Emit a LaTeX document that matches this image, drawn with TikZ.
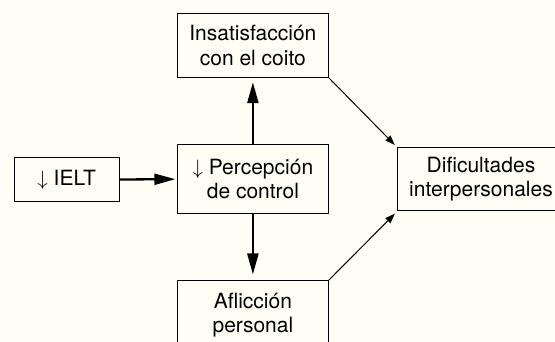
\documentclass[tikz,border=0pt]{standalone}
\usepackage{fontspec}
\setmainfont{TeX Gyre Heros}
\usetikzlibrary{arrows.meta}
\definecolor{bgcream}{RGB}{255,254,244}
\begin{document}
\begin{tikzpicture}[x=1pt,y=-1pt,
  box/.style={draw=black, line width=1pt, rectangle, inner sep=0pt, align=center,
    font=\fontsize{21}{24.5}\selectfont},
  bigarrow/.style={line width=2.3pt, -{Triangle[length=21pt,width=11pt]}},
  thinarrow/.style={line width=1pt, -{Triangle[length=10pt,width=7pt]}}]
\useasboundingbox (0,0) rectangle (555,342);
\fill[bgcream] (0,0) rectangle (555,342);
\begin{scope}
\clip (0,0) rectangle (555,342);
\node[box, minimum width=150.8pt, minimum height=63.3pt] (top) at (252.9,45.65) {Insatisfacción\\con el coito};
\node[box, minimum width=150.8pt, minimum height=68.3pt] (perc) at (252.9,179.15) {$\downarrow$ Percepción\\de control};
\node[box, minimum width=150.8pt, minimum height=68.6pt] (bot) at (252.9,315) {Aflicción\\personal};
\node[box, minimum width=105.3pt, minimum height=44.4pt] (ielt) at (66.65,179.5) {$\downarrow$ IELT};
\node[box, minimum width=167pt, minimum height=63.3pt] (dif) at (481,179.35) {Dificultades\\interpersonales};
\draw[bigarrow, shorten >=1.7pt] (ielt.east) -- (perc.west);
\draw[bigarrow, shorten >=4.4pt] (perc.north) -- (top.south);
\draw[bigarrow, shorten >=5.7pt] (perc.south) -- (bot.north);
\draw[thinarrow, shorten >=3pt] (top.south east) -- (dif.north west);
\draw[thinarrow, shorten >=3pt] (bot.north east) -- (dif.south west);
\end{scope}
\end{tikzpicture}
\end{document}
